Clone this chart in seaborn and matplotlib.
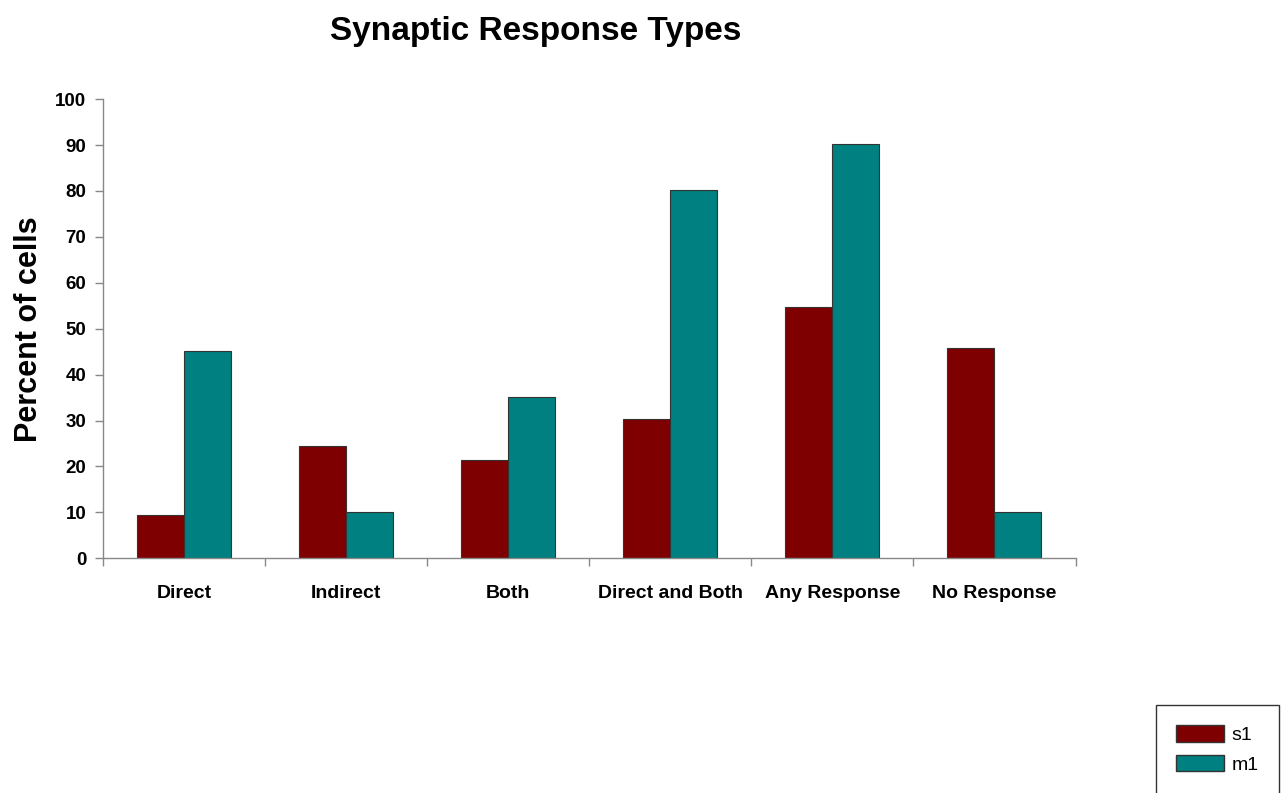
import matplotlib
matplotlib.use("Agg")
import matplotlib.pyplot as plt
import seaborn as sns
import pandas as pd
from matplotlib.patches import Patch

categories = ["Direct", "Indirect", "Both", "Direct and Both", "Any Response", "No Response"]
series_names = ["s1", "m1"]
s1_values = [9.4, 24.4, 21.3, 30.3, 54.7, 45.7]
m1_values = [45.1, 10.0, 35.1, 80.2, 90.2, 10.0]
y_ticks = [0, 10, 20, 30, 40, 50, 60, 70, 80, 90, 100]
colors = ["#7f0000", "#008080"]

df = pd.DataFrame({
    "category": categories * 2,
    "series": [series_names[0]] * len(categories) + [series_names[1]] * len(categories),
    "value": s1_values + m1_values,
})

sns.set_theme(style="white")
plt.rcParams['font.family'] = ['Liberation Sans', 'DejaVu Sans']
plt.rcParams['text.color'] = 'black'
plt.rcParams['axes.labelcolor'] = 'black'
plt.rcParams['xtick.color'] = 'black'
plt.rcParams['ytick.color'] = 'black'

fig = plt.figure(figsize=(12.85, 7.93), dpi=100)
ax = fig.add_axes([0.080, 0.296, 0.757, 0.579])

sns.barplot(data=df, x="category", y="value", hue="series", order=categories,
            hue_order=series_names, palette=colors, width=0.58, ax=ax,
            edgecolor="#333333", linewidth=0.8, legend=False, saturation=1)

ax.set_xlim(-0.5, len(categories) - 0.5)
ax.set_ylim(0, 100)
ax.set_yticks(y_ticks)
ax.set_yticklabels([str(t) for t in y_ticks], fontsize=13.5, fontweight="bold")
ax.set_xticks(range(len(categories)))
ax.set_xticklabels(categories, fontsize=14, fontweight="bold")
ax.set_xticks([i - 0.5 for i in range(len(categories) + 1)], minor=True)
ax.tick_params(axis="x", which="major", length=0, pad=19)
ax.tick_params(axis="x", which="minor", length=6, width=1, color="#888888", direction="out", bottom=True)
ax.tick_params(axis="y", which="major", length=6, width=1, color="#888888", direction="out", left=True, pad=6)
ax.set_xlabel("")
ax.set_ylabel("Percent of cells", fontsize=22, fontweight="bold", labelpad=8)
for side in ["top", "right"]:
    ax.spines[side].set_visible(False)
for side in ["left", "bottom"]:
    ax.spines[side].set_color("#888888")
    ax.spines[side].set_linewidth(1)
ax.grid(False)

fig.text(0.417, 0.96, "Synaptic Response Types", ha="center", va="center",
         fontsize=24, fontweight="bold")

handles = [Patch(facecolor=colors[0], edgecolor="#333333", label="s1"),
           Patch(facecolor=colors[1], edgecolor="#333333", label="m1")]
leg = fig.legend(handles=handles, loc="upper left", bbox_to_anchor=(0.8996, 0.111),
                 frameon=True, fontsize=14, handlelength=2.45, handleheight=0.9,
                 borderpad=1.05, labelspacing=0.55, fancybox=False, handletextpad=0.4,
                 borderaxespad=0)
leg.get_frame().set_edgecolor("black")
leg.get_frame().set_linewidth(1)

fig.savefig("out.png", dpi=100, facecolor="white")
